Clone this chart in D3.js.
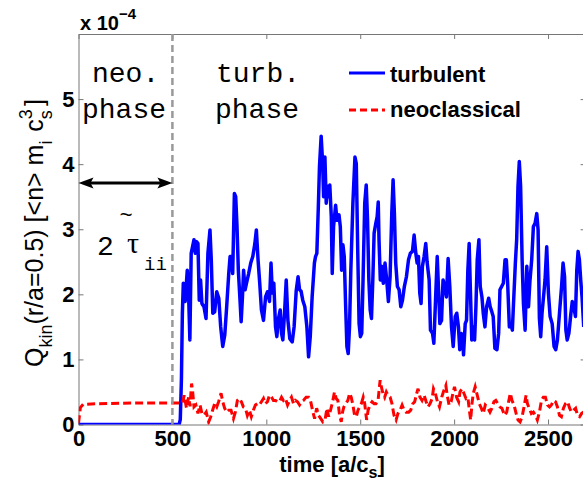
<!DOCTYPE html>
<html>
<head>
<meta charset="utf-8">
<script src="https://cdn.jsdelivr.net/npm/d3@7"></script>
<style>
  body { margin: 0; background: #fff; }
  svg { display: block; }
</style>
</head>
<body>
<div id="chart"></div>
<script>
// ticks
const xTicks = [0, 500, 1000, 1500, 2000, 2500];
const yTicks = [0, 1, 2, 3, 4, 5];

// Q_kin in units of 1e-4, [time, value]
const turbulent = [
  [0,0],[536,0],[542,0.08],[548,0.7],[553,1.7],[558,2.17],[568,1.89],[579,2.37],[586,2.02],[593,1.30],
  [600,2.63],[615,2.84],[622,2.63],[629,2.81],[636,2.78],[643,1.91],[650,2.22],[657,1.86],[668,1.81],[679,1.63],
  [689,2.63],[700,2.99],[707,2.53],[715,1.71],[725,1.73],[736,2.04],[747,1.94],[757,1.50],[768,1.20],[779,1.38],
  [789,1.81],[800,2.32],[807,2.58],[814,2.58],[821,2.32],[830,3.55],[837,3.50],[844,3.04],[851,2.37],[859,1.96],
  [866,1.58],[873,1.96],[879,2.37],[887,2.07],[896,2.19],[906,2.32],[917,2.48],[928,2.58],[939,2.78],[947,2.99],
  [956,2.53],[965,2.17],[974,1.76],[985,1.60],[996,1.96],[1006,2.04],[1017,1.89],[1025,2.48],[1032,2.02],[1040,2.17],
  [1049,1.50],[1056,1.35],[1065,1.63],[1074,1.76],[1081,1.40],[1088,1.30],[1097,1.71],[1106,2.22],[1115,1.60],[1125,1.32],
  [1138,1.27],[1148,1.50],[1159,2.05],[1169,2.27],[1177,2.07],[1185,2.05],[1194,1.91],[1205,1.81],[1216,1.50],[1225,1.04],
  [1234,1.35],[1244,1.96],[1256,2.48],[1262,2.58],[1269,2.63],[1277,3.35],[1283,3.96],[1292,4.43],[1300,4.01],[1305,3.50],
  [1312,4.11],[1319,3.40],[1326,3.66],[1332,3.50],[1338,3.68],[1346,3.19],[1351,2.32],[1358,3.04],[1369,3.37],[1376,3.14],
  [1387,3.22],[1394,3.04],[1401,2.37],[1408,2.76],[1415,2.58],[1422,1.86],[1429,1.20],[1436,1.09],[1443,1.50],[1450,2.37],
  [1461,3.40],[1472,4.11],[1479,4.01],[1487,2.63],[1494,1.55],[1501,1.35],[1508,1.40],[1515,2.22],[1524,3.40],[1532,3.68],
  [1539,3.14],[1546,2.22],[1553,1.76],[1560,1.63],[1567,2.22],[1574,2.94],[1583,3.09],[1590,3.19],[1596,3.42],[1600,2.84],
  [1607,2.22],[1614,2.43],[1623,2.17],[1632,2.48],[1641,2.22],[1650,1.89],[1659,2.27],[1668,3.24],[1675,3.76],[1682,3.24],
  [1689,2.48],[1698,2.12],[1707,2.07],[1716,1.81],[1725,1.91],[1735,2.12],[1746,2.27],[1757,2.53],[1767,2.63],[1778,2.66],
  [1787,2.91],[1796,2.63],[1803,2.48],[1810,2.58],[1817,2.02],[1824,1.86],[1831,2.43],[1840,2.58],[1849,2.78],[1856,2.50],
  [1867,2.22],[1874,1.45],[1885,1.40],[1892,1.25],[1901,1.91],[1910,2.58],[1917,2.07],[1924,1.55],[1933,1.60],[1941,2.22],
  [1950,2.12],[1959,1.96],[1968,2.55],[1977,2.12],[1986,1.50],[1995,1.20],[2006,1.66],[2014,1.71],[2023,1.50],[2030,1.15],
  [2038,1.40],[2045,1.35],[2050,1.07],[2059,1.55],[2066,1.60],[2073,2.37],[2080,2.78],[2087,2.02],[2094,1.30],[2101,1.50],
  [2109,1.30],[2116,1.81],[2123,2.53],[2132,2.84],[2139,2.12],[2148,1.96],[2155,1.71],[2164,1.50],[2173,1.81],[2184,1.94],
  [2192,1.81],[2201,1.73],[2208,1.66],[2217,1.17],[2228,1.15],[2237,1.40],[2244,2.07],[2253,2.12],[2262,2.17],[2271,2.53],
  [2278,2.53],[2285,2.17],[2294,1.50],[2303,1.53],[2310,1.45],[2317,1.91],[2326,2.48],[2333,2.84],[2340,3.66],[2347,4.04],
  [2354,3.66],[2362,2.53],[2369,1.86],[2378,1.45],[2387,2.43],[2396,1.81],[2404,2.22],[2413,2.53],[2422,3.04],[2431,3.09],
  [2440,3.24],[2447,2.99],[2454,1.63],[2461,1.35],[2468,1.71],[2476,1.96],[2484,2.22],[2493,2.73],[2502,2.02],[2511,1.66],
  [2522,1.55],[2532,1.20],[2541,1.15],[2550,1.30],[2561,1.71],[2572,2.12],[2580,2.48],[2588,2.27],[2595,1.45],[2602,1.30],
  [2611,1.40],[2620,1.66],[2629,1.89],[2637,1.81],[2646,1.66],[2653,2.37],[2660,2.66],[2667,2.53],[2674,2.22],[2681,1.96],
  [2690,1.50]
];

const neoclassical = [
  [0,0.02],[10,0.26],[25,0.31],[100,0.32],[300,0.33],[500,0.33],[554,0.33],[563,0.45],[575,0.25],[586,0.42],
  [594,0.28],[602,0.63],[608,0.50],[615,0.27],[625,0.30],[636,0.17],[647,0.30],[657,0.17],[668,0.14],[680,0.19],
  [693,0.04],[704,0.12],[714,0.22],[725,0.32],[736,0.27],[746,0.35],[759,0.48],[768,0.35],[778,0.25],[789,0.19],
  [800,0.22],[812,0.22],[825,0.09],[835,0.19],[846,0.37],[857,0.40],[867,0.35],[878,0.27],[889,0.25],[899,0.14],
  [910,0.22],[920,0.12],[931,0.22],[942,0.30],[952,0.32],[963,0.30],[974,0.35],[985,0.40],[995,0.32],[1006,0.35],
  [1017,0.45],[1028,0.42],[1038,0.37],[1049,0.37],[1059,0.35],[1070,0.35],[1081,0.42],[1091,0.37],[1102,0.40],[1113,0.30],
  [1124,0.37],[1134,0.42],[1145,0.32],[1155,0.37],[1166,0.35],[1177,0.30],[1188,0.35],[1198,0.37],[1212,0.42],[1225,0.42],
  [1235,0.37],[1246,0.22],[1257,0.09],[1268,0.25],[1278,0.14],[1290,0.09],[1301,0.04],[1312,0.06],[1323,0.25],[1332,0.12],
  [1342,0.22],[1353,0.35],[1363,0.50],[1372,0.40],[1381,0.37],[1390,0.14],[1399,0.04],[1406,0.19],[1413,0.27],[1424,0.32],
  [1434,0.37],[1444,0.48],[1452,0.42],[1461,0.30],[1470,0.14],[1479,0.12],[1488,0.22],[1497,0.27],[1506,0.32],[1516,0.42],
  [1524,0.32],[1534,0.07],[1542,0.22],[1552,0.30],[1563,0.35],[1574,0.32],[1584,0.32],[1595,0.37],[1606,0.68],[1612,0.58],
  [1621,0.48],[1630,0.42],[1639,0.50],[1648,0.45],[1659,0.42],[1669,0.32],[1680,0.14],[1691,0.07],[1701,0.17],[1712,0.22],
  [1723,0.30],[1734,0.22],[1744,0.19],[1758,0.19],[1769,0.22],[1780,0.32],[1790,0.35],[1801,0.48],[1808,0.55],[1818,0.42],
  [1829,0.37],[1840,0.45],[1851,0.35],[1861,0.27],[1872,0.32],[1883,0.40],[1890,0.55],[1900,0.48],[1911,0.35],[1922,0.27],
  [1934,0.42],[1945,0.52],[1956,0.60],[1963,0.45],[1973,0.30],[1984,0.35],[1995,0.50],[2002,0.58],[2013,0.42],[2024,0.35],
  [2031,0.50],[2042,0.55],[2052,0.48],[2063,0.40],[2073,0.42],[2081,0.22],[2088,0.07],[2095,0.32],[2102,0.48],[2112,0.58],
  [2123,0.45],[2134,0.32],[2145,0.25],[2155,0.17],[2166,0.30],[2177,0.27],[2191,0.19],[2201,0.25],[2212,0.35],[2222,0.37],
  [2233,0.32],[2244,0.27],[2254,0.25],[2269,0.14],[2280,0.19],[2290,0.35],[2299,0.48],[2308,0.37],[2319,0.30],[2330,0.17],
  [2340,0.07],[2351,0.04],[2362,0.12],[2372,0.27],[2383,0.45],[2390,0.32],[2400,0.25],[2411,0.17],[2422,0.19],[2433,0.14],
  [2443,0.07],[2454,0.19],[2465,0.37],[2475,0.42],[2486,0.42],[2497,0.30],[2508,0.27],[2518,0.30],[2529,0.37],[2540,0.35],
  [2550,0.27],[2561,0.14],[2571,0.12],[2582,0.25],[2593,0.32],[2604,0.35],[2615,0.25],[2625,0.19],[2636,0.22],[2647,0.25],
  [2657,0.14],[2668,0.12],[2679,0.17],[2690,0.19]
];

const phaseSplit = 500;   // end of neoclassical phase
const arrowLevel = 3.71;  // height of the 2 tau_ii arrow

const W = 583, H = 489;
const sans = "'Liberation Sans', Arial, Helvetica, sans-serif";
const mono = "'Liberation Mono', 'Courier New', monospace";
const serif = "'Liberation Serif', 'Times New Roman', serif";

const svg = d3.select("#chart").append("svg")
  .attr("width", W).attr("height", H);

const x = d3.scaleLinear().domain([0, 2700]).range([78.5, 585.6]);
const y = d3.scaleLinear().domain([0, 6]).range([424.5, 34]);

svg.append("defs").append("clipPath").attr("id", "plot")
  .append("rect")
  .attr("x", x(0)).attr("y", y(6))
  .attr("width", x(2700) - x(0)).attr("height", y(0) - y(6));

// box + inward ticks (matlab style)
function styleAxis(g) {
  g.select(".domain").attr("stroke", "#777").attr("stroke-width", 1);
  g.selectAll(".tick line").attr("stroke", "#777");
  g.selectAll(".tick text")
    .attr("font-family", sans).attr("font-weight", "bold")
    .attr("font-size", 22).attr("fill", "#000");
}

svg.append("g")
  .attr("transform", `translate(0,${y(0)})`)
  .call(d3.axisBottom(x).tickValues(xTicks).tickFormat(d3.format("d"))
    .tickSize(-5).tickSizeOuter(0).tickPadding(6))
  .call(styleAxis);

svg.append("g")
  .attr("transform", `translate(0,${y(6)})`)
  .call(d3.axisTop(x).tickValues(xTicks).tickSize(-5).tickSizeOuter(0).tickFormat(""))
  .call(styleAxis);

svg.append("g")
  .attr("transform", `translate(${x(0)},0)`)
  .call(d3.axisLeft(y).tickValues(yTicks).tickFormat(d3.format("d"))
    .tickSize(-5).tickSizeOuter(0).tickPadding(4))
  .call(styleAxis);

svg.append("g")
  .attr("transform", `translate(${x(2700)},0)`)
  .call(d3.axisRight(y).tickValues(yTicks).tickSize(-5).tickSizeOuter(0).tickFormat(""))
  .call(styleAxis);

// lines
const line = d3.line().x(d => x(d[0])).y(d => y(d[1]));
const plot = svg.append("g").attr("clip-path", "url(#plot)");

plot.append("path")
  .datum(turbulent)
  .attr("fill", "none")
  .attr("stroke", "#0000ff")
  .attr("stroke-width", 3.5)
  .attr("stroke-linejoin", "round")
  .attr("d", line);

plot.append("path")
  .datum(neoclassical)
  .attr("fill", "none")
  .attr("stroke", "#ff0000")
  .attr("stroke-width", 3)
  .attr("stroke-dasharray", "8,4")
  .attr("d", line);

// phase boundary
svg.append("line")
  .attr("x1", x(phaseSplit)).attr("x2", x(phaseSplit))
  .attr("y1", y(6)).attr("y2", y(0))
  .attr("stroke", "#999").attr("stroke-width", 2.5)
  .attr("stroke-dasharray", "7,4");

// double arrow
const ay = y(arrowLevel);
svg.append("line")
  .attr("x1", x(0) + 8).attr("x2", x(phaseSplit) - 8)
  .attr("y1", ay).attr("y2", ay)
  .attr("stroke", "#000").attr("stroke-width", 3);
[[x(0), 1], [x(phaseSplit), -1]].forEach(([px, dir]) => {
  svg.append("path")
    .attr("d", `M${px},${ay} L${px + dir * 15},${ay - 5.5} L${px + dir * 12},${ay} L${px + dir * 15},${ay + 5.5} Z`)
    .attr("fill", "#000");
});

// phase labels
const phaseText = (t, px, py) => svg.append("text")
  .attr("x", px).attr("y", py)
  .attr("font-family", mono).attr("font-size", 28).text(t);
phaseText("neo.", 92, 82);
phaseText("phase", 82, 118);
phaseText("turb.", 216, 82);
phaseText("phase", 215, 118);

// 2 tau_ii
svg.append("text").attr("x", 97).attr("y", 255)
  .attr("font-family", mono).attr("font-size", 28).text("2");
svg.append("text").attr("x", 127).attr("y", 253)
  .attr("font-family", serif).attr("font-size", 30).text("τ");
svg.append("text").attr("x", 126).attr("y", 222)
  .attr("text-anchor", "middle")
  .attr("font-family", mono).attr("font-size", 22).text("~");
svg.append("text").attr("x", 144).attr("y", 270)
  .attr("font-family", mono).attr("font-size", 19).text("ii");

// legend
const legend = svg.append("g");
legend.append("line")
  .attr("x1", 349).attr("x2", 385).attr("y1", 73).attr("y2", 73)
  .attr("stroke", "#0000ff").attr("stroke-width", 3);
legend.append("line")
  .attr("x1", 349).attr("x2", 385).attr("y1", 110).attr("y2", 110)
  .attr("stroke", "#ff0000").attr("stroke-width", 3)
  .attr("stroke-dasharray", "7,4");
legend.append("text").attr("x", 390).attr("y", 82)
  .attr("font-family", sans).attr("font-weight", "bold").attr("font-size", 22)
  .text("turbulent");
legend.append("text").attr("x", 390).attr("y", 117)
  .attr("font-family", sans).attr("font-weight", "bold").attr("font-size", 22)
  .text("neoclassical");

// exponent
const expo = svg.append("text").attr("x", 80).attr("y", 30)
  .attr("font-family", sans).attr("font-weight", "bold").attr("font-size", 20);
expo.append("tspan").text("x 10");
expo.append("tspan").attr("font-size", 15).attr("dy", -11).text("−4");

// x label
const xl = svg.append("text")
  .attr("x", (x(0) + x(2700)) / 2).attr("y", 472)
  .attr("text-anchor", "middle")
  .attr("font-family", sans).attr("font-weight", "bold").attr("font-size", 22);
xl.append("tspan").text("time [a/c");
xl.append("tspan").attr("font-size", 16).attr("dy", 6).text("s");
xl.append("tspan").attr("dy", -6).text("]");

// y label
const yl = svg.append("text")
  .attr("transform", "translate(43,367) rotate(-90)")
  .attr("font-family", sans).attr("font-size", 25);
yl.append("tspan").text("Q");
yl.append("tspan").attr("font-size", 18).attr("dy", 9).text("kin");
yl.append("tspan").attr("dy", -9).text("(r/a=0.5) [<n> m");
yl.append("tspan").attr("font-size", 18).attr("dy", 9).text("i");
yl.append("tspan").attr("dy", -9).attr("dx", 2).text(" c");
yl.append("tspan").attr("font-size", 18).attr("dy", 9).text("s");
yl.append("tspan").attr("font-size", 18).attr("dy", -20).attr("dx", -9).text("3");
yl.append("tspan").attr("dy", 11).attr("dx", 3).text("]");
</script>
</body>
</html>
